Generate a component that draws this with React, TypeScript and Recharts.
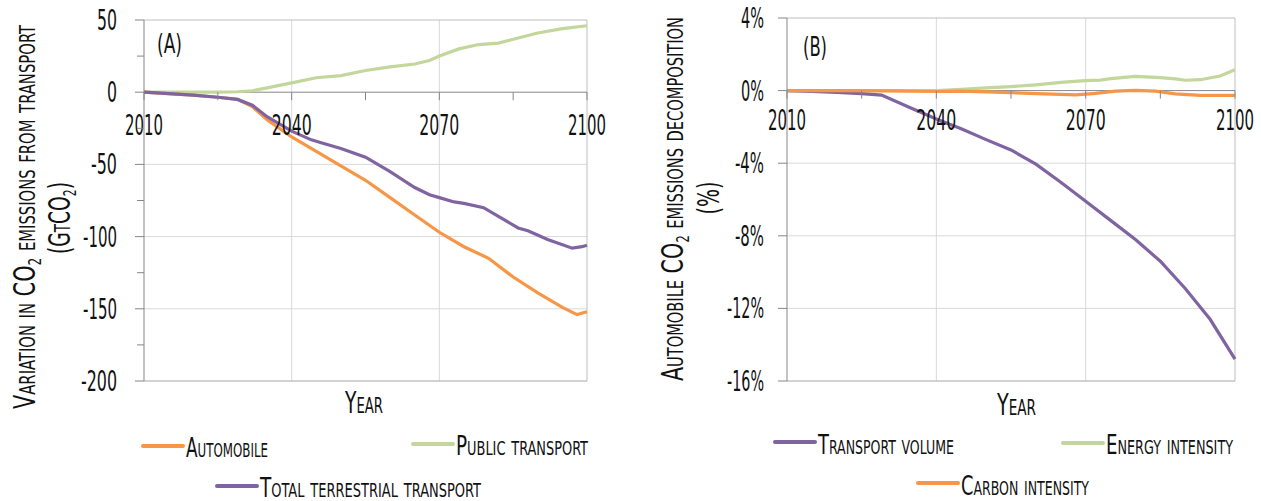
import React from 'react';
import { LineChart, Line, XAxis, YAxis, ReferenceLine } from 'recharts';

// (A) variation in CO2 emissions from transport, GtCO2 — [year, value]
const automobile = [
  [2010, 0], [2015, -1], [2020, -2], [2025, -3.5], [2029, -5], [2032, -10], [2035, -19],
  [2040, -31], [2045, -41], [2050, -51], [2055, -61], [2060, -73], [2065, -85], [2070, -97],
  [2075, -107], [2080, -115], [2085, -128], [2090, -139], [2095, -149], [2098, -154], [2100, -152],
];
const publicTransport = [
  [2010, 0], [2015, 0], [2020, 0], [2025, 0], [2029, 0.3], [2032, 1], [2035, 3], [2040, 6.5],
  [2045, 10], [2050, 11.5], [2055, 15], [2060, 17.5], [2065, 19.5], [2068, 22], [2070, 25],
  [2074, 30], [2078, 33], [2082, 34], [2086, 37.5], [2090, 41], [2095, 44], [2100, 46],
];
const totalTerrestrial = [
  [2010, 0], [2015, -1], [2020, -2], [2025, -3.5], [2029, -5], [2032, -9], [2035, -17],
  [2040, -27], [2044, -33], [2046, -35], [2050, -39], [2055, -45], [2060, -55], [2065, -66],
  [2068, -71], [2070, -73], [2073, -76], [2075, -77], [2079, -80], [2082, -86], [2086, -94],
  [2088, -96], [2092, -102], [2097, -108], [2099, -107], [2100, -106],
];

// (B) automobile CO2 emissions decomposition, % — [year, value]
const transportVolume = [
  [2010, 0], [2015, -0.05], [2020, -0.1], [2025, -0.17], [2029, -0.25], [2035, -0.97],
  [2040, -1.56], [2045, -2.1], [2050, -2.7], [2055, -3.27], [2060, -4.05], [2065, -5.05],
  [2070, -6.1], [2075, -7.15], [2080, -8.2], [2085, -9.4], [2090, -10.9], [2095, -12.6], [2100, -14.8],
];
const energyIntensity = [
  [2010, 0], [2020, 0], [2030, 0], [2040, 0], [2045, 0.07], [2050, 0.15], [2055, 0.22],
  [2060, 0.32], [2065, 0.45], [2070, 0.55], [2073, 0.58], [2075, 0.66], [2080, 0.78],
  [2085, 0.72], [2088, 0.65], [2090, 0.57], [2093, 0.6], [2097, 0.8], [2100, 1.15],
];
const carbonIntensity = [
  [2010, 0], [2020, 0], [2030, -0.02], [2040, -0.05], [2045, -0.03], [2050, -0.07], [2055, -0.11],
  [2060, -0.17], [2065, -0.21], [2068, -0.23], [2072, -0.15], [2076, -0.03], [2080, 0.01],
  [2084, -0.03], [2088, -0.18], [2093, -0.26], [2100, -0.26],
];

const yearTicks = [2010, 2025, 2040, 2055, 2070, 2085, 2100];
const ticksA = [50, 25, 0, -25, -50, -75, -100, -125, -150, -175, -200];
const ticksB = [4, 0, -4, -8, -12, -16];

const ORANGE = '#F79646';
const GREEN = '#C3D69B';
const PURPLE = '#8064A2';
const AXIS = '#868686';
const GRID = '#d9d9d9';
const INK = '#111';
const FONT = "'Liberation Sans Narrow', 'DejaVu Sans Condensed', 'Liberation Sans', sans-serif";

const toPoints = (rows: number[][]) => rows.map(([year, value]) => ({ year, value }));

// rough glyph widths of the condensed face in the original
const charW: Record<string, number> = { '-': 6, '%': 13, '1': 8 };
const labelWidth = (s: string) => s.split('').reduce((w, c) => w + (charW[c] ?? 10), 0);

const XTick = ({ x, payload, zeroY, labelDy }: any) => {
  const v = payload.value;
  const label = String(v);
  const major = (v - 2010) % 30 === 0;
  return (
    <g>
      <line x1={x} x2={x} y1={zeroY} y2={zeroY + 8} stroke={AXIS} />
      {major && (
        <text x={x} y={zeroY + labelDy} textAnchor="middle" fontSize={28} fontFamily={FONT} fill={INK}
          textLength={labelWidth(label)} lengthAdjust="spacingAndGlyphs">{label}</text>
      )}
    </g>
  );
};

const YTick = ({ x, y, payload, step, gap, suffix }: any) => {
  const v = payload.value;
  const major = v % step === 0;
  const label = `${v}${suffix}`;
  return (
    <g>
      <line x1={x - (major ? 9 : 7)} x2={x} y1={y} y2={y} stroke={AXIS} />
      {major && (
        <text x={x - gap} y={y + 10} textAnchor="end" fontSize={28} fontFamily={FONT} fill={INK}
          textLength={labelWidth(label)} lengthAdjust="spacingAndGlyphs">{label}</text>
      )}
    </g>
  );
};

const Txt = ({ x, y, w, size = 27, rotate = false, caps = true, anchor = 'start', children }: any) => (
  <text
    x={rotate ? 0 : x} y={rotate ? 0 : y}
    transform={rotate ? `translate(${x},${y}) rotate(-90)` : undefined}
    textAnchor={anchor} fontSize={size} fontFamily={FONT} fill={INK}
    style={{ fontVariant: caps ? 'small-caps' : 'normal' }}
    textLength={w} lengthAdjust="spacingAndGlyphs"
  >{children}</text>
);

const LegendKey = ({ x, y, color, label, w, ty }: any) => (
  <g>
    <line x1={x} x2={x + 40} y1={y} y2={y} stroke={color} strokeWidth={4} strokeLinecap="round" />
    <Txt x={x + 43} y={ty} w={w}>{label}</Txt>
  </g>
);

const series = (data: number[][], color: string, name: string) => (
  <Line key={name} name={name} data={toPoints(data)} dataKey="value" type="linear" stroke={color}
    strokeWidth={3.2} dot={false} activeDot={false} isAnimationActive={false} />
);

export default function App() {
  // plot boxes: A 144..587 x 20..381, B 787..1235 x 18..381
  const zeroA = 20 + (50 / 250) * 361;
  const zeroB = 18 + (4 / 20) * 363;

  return (
    <div style={{ position: 'absolute', left: 0, top: 0, width: 1261, height: 501, background: '#fff', overflow: 'hidden' }}>
      <div style={{ position: 'absolute', left: 0, top: 0 }}>
        <LineChart width={620} height={400} margin={{ top: 20, right: 33, left: 84, bottom: 9 }}>
          <XAxis dataKey="year" type="number" domain={[2010, 2100]} ticks={yearTicks} interval={0}
            axisLine={false} tickLine={false} height={10}
            tick={(p: any) => <XTick {...p} zeroY={zeroA} labelDy={43} />} />
          <YAxis type="number" domain={[-200, 50]} ticks={ticksA} interval={0} width={60}
            axisLine={{ stroke: AXIS }} tickLine={false} tickSize={0} tickMargin={0}
            tick={(p: any) => <YTick {...p} step={50} gap={27} suffix="" />} />
          <ReferenceLine y={-50} stroke={GRID} />
          <ReferenceLine y={-100} stroke={GRID} />
          <ReferenceLine y={-150} stroke={GRID} />
          <ReferenceLine x={2040} stroke={GRID} />
          <ReferenceLine x={2070} stroke={GRID} />
          <ReferenceLine y={50} stroke="#bfbfbf" />
          <ReferenceLine x={2100} stroke="#bfbfbf" />
          <ReferenceLine y={-200} stroke="#a6a6a6" />
          <ReferenceLine y={0} stroke={AXIS} />
          {series(publicTransport, GREEN, 'Public transport')}
          {series(automobile, ORANGE, 'Automobile')}
          {series(totalTerrestrial, PURPLE, 'Total terrestrial transport')}
        </LineChart>
      </div>

      <div style={{ position: 'absolute', left: 640, top: 0 }}>
        <LineChart width={620} height={400} margin={{ top: 18, right: 25, left: 87, bottom: 9 }}>
          <XAxis dataKey="year" type="number" domain={[2010, 2100]} ticks={yearTicks} interval={0}
            axisLine={false} tickLine={false} height={10}
            tick={(p: any) => <XTick {...p} zeroY={zeroB} labelDy={39} />} />
          <YAxis type="number" domain={[-16, 4]} ticks={ticksB} interval={0} width={60}
            axisLine={{ stroke: AXIS }} tickLine={false} tickSize={0} tickMargin={0}
            tick={(p: any) => <YTick {...p} step={4} gap={23} suffix="%" />} />
          <ReferenceLine y={-4} stroke={GRID} />
          <ReferenceLine y={-8} stroke={GRID} />
          <ReferenceLine y={-12} stroke={GRID} />
          <ReferenceLine x={2040} stroke={GRID} />
          <ReferenceLine x={2070} stroke={GRID} />
          <ReferenceLine y={4} stroke="#bfbfbf" />
          <ReferenceLine x={2100} stroke="#bfbfbf" />
          <ReferenceLine y={-16} stroke="#a6a6a6" />
          <ReferenceLine y={0} stroke={AXIS} />
          {series(energyIntensity, GREEN, 'Energy intensity')}
          {series(transportVolume, PURPLE, 'Transport volume')}
          {series(carbonIntensity, ORANGE, 'Carbon intensity')}
        </LineChart>
      </div>

      <svg width={1261} height={501} style={{ position: 'absolute', left: 0, top: 0, pointerEvents: 'none' }}>
        <Txt x={35} y={217} w={384} size={31} rotate anchor="middle">
          Variation in CO<tspan fontSize={18} dy={6}>2</tspan><tspan dy={-6}> emissions from transport</tspan>
        </Txt>
        <Txt x={70} y={218} w={72} size={31} rotate anchor="middle">
          (GtCO<tspan fontSize={18} dy={6}>2</tspan><tspan dy={-6}>)</tspan>
        </Txt>
        <Txt x={683} y={199} w={364} size={31} rotate anchor="middle">
          Automobile CO<tspan fontSize={18} dy={6}>2</tspan><tspan dy={-6}> emissions decomposition</tspan>
        </Txt>
        <Txt x={719} y={198} w={33} size={31} rotate anchor="middle">(%)</Txt>

        <Txt x={345} y={413} w={38} size={31}>Year</Txt>
        <Txt x={997} y={415} w={39} size={31}>Year</Txt>

        <Txt x={157} y={53} w={25} size={26} caps={false}>(A)</Txt>
        <Txt x={803} y={56} w={24} size={26} caps={false}>(B)</Txt>

        <LegendKey x={143} y={446} color={ORANGE} label="Automobile" w={82} ty={457} />
        <LegendKey x={413} y={444} color={GREEN} label="Public transport" w={132} ty={455} />
        <LegendKey x={217} y={486} color={PURPLE} label="Total terrestrial transport" w={221} ty={497} />
        <LegendKey x={775} y={442} color={PURPLE} label="Transport volume" w={136} ty={454} />
        <LegendKey x={1063} y={443} color={GREEN} label="Energy intensity" w={127} ty={454} />
        <LegendKey x={918} y={483} color={ORANGE} label="Carbon intensity" w={128} ty={495} />
      </svg>
    </div>
  );
}
